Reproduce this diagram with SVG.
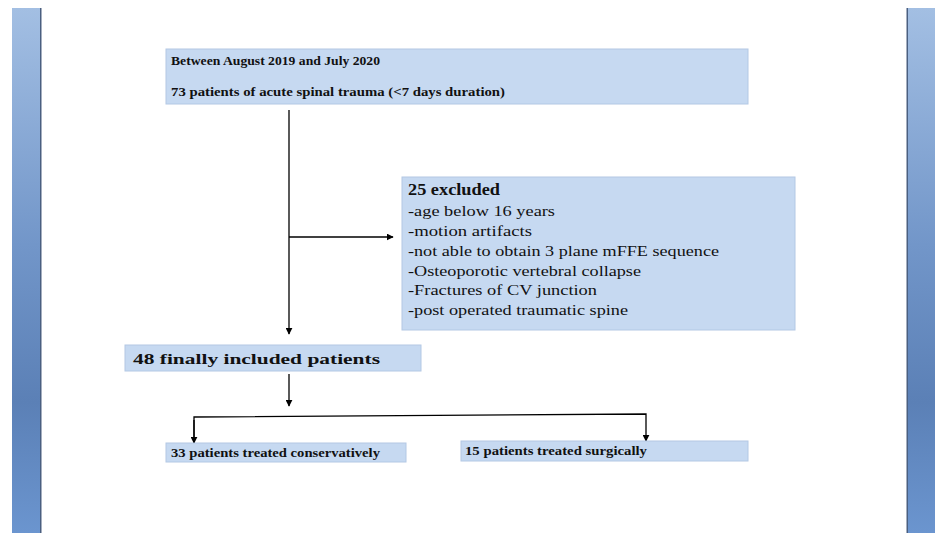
<svg xmlns="http://www.w3.org/2000/svg" width="935" height="533" viewBox="0 0 935 533">
<defs>
<linearGradient id="bar" x1="0" y1="0" x2="0" y2="1">
<stop offset="0" stop-color="#a3bfe3"/>
<stop offset="0.45" stop-color="#7296c9"/>
<stop offset="0.75" stop-color="#5b80b6"/>
<stop offset="1" stop-color="#6b95cf"/>
</linearGradient>
<marker id="ah" viewBox="0 0 10 10" refX="9" refY="5" markerWidth="7" markerHeight="7" markerUnits="userSpaceOnUse" orient="auto">
<path d="M0,0 L10,5 L0,10 z" fill="#000"/>
</marker>
<style>
.box{fill:#c6d9f1;stroke:#b3c8e4;stroke-width:1}
.t{font-family:"Liberation Serif","Times New Roman",serif;fill:#111}
.b{font-weight:bold}
.ln{stroke:#000;stroke-width:1.3;fill:none}
</style>
</defs>
<rect x="0" y="0" width="935" height="533" fill="#fff"/>
<rect x="12" y="8" width="29" height="525" fill="url(#bar)"/>
<rect x="40" y="8" width="1.5" height="525" fill="#4a5f80"/>
<rect x="907" y="8" width="28" height="525" fill="url(#bar)"/>
<rect x="906.5" y="8" width="1.5" height="525" fill="#4a5f80"/>

<g id="connectors">
<line class="ln" x1="289" y1="110" x2="289" y2="334" marker-end="url(#ah)"/>
<line class="ln" x1="289" y1="237" x2="393" y2="237" marker-end="url(#ah)"/>
<line class="ln" x1="289" y1="374" x2="289" y2="406" marker-end="url(#ah)"/>
<polyline class="ln" points="194,443 194,417 646,414 646,441" marker-end="url(#ah)"/>
<line class="ln" x1="194" y1="420" x2="194" y2="443" marker-end="url(#ah)"/>
</g>

<g id="n1">
<rect class="box" x="166" y="49" width="582" height="55"/>
<text class="t b" x="171" y="65" font-size="12" textLength="209" lengthAdjust="spacingAndGlyphs">Between August 2019 and July 2020</text>
<text class="t b" x="171" y="96" font-size="12" textLength="334" lengthAdjust="spacingAndGlyphs">73 patients of acute spinal trauma (&lt;7 days duration)</text>
</g>

<g id="n2">
<rect class="box" x="402" y="177" width="393" height="153"/>
<text class="t b" x="408" y="195" font-size="16" textLength="92" lengthAdjust="spacingAndGlyphs">25 excluded</text>
<text class="t" x="408" y="216" font-size="15.5" textLength="147" lengthAdjust="spacingAndGlyphs">-age below 16 years</text>
<text class="t" x="408" y="236" font-size="15.5" textLength="124" lengthAdjust="spacingAndGlyphs">-motion artifacts</text>
<text class="t" x="408" y="256" font-size="15.5" textLength="311" lengthAdjust="spacingAndGlyphs">-not able to obtain 3 plane mFFE sequence</text>
<text class="t" x="408" y="276" font-size="15.5" textLength="233" lengthAdjust="spacingAndGlyphs">-Osteoporotic vertebral collapse</text>
<text class="t" x="408" y="295" font-size="15.5" textLength="189" lengthAdjust="spacingAndGlyphs">-Fractures of CV junction</text>
<text class="t" x="408" y="315" font-size="15.5" textLength="220" lengthAdjust="spacingAndGlyphs">-post operated traumatic spine</text>
</g>

<g id="n3">
<rect class="box" x="125" y="345" width="296" height="26"/>
<text class="t b" x="133" y="364" font-size="15.5" textLength="247" lengthAdjust="spacingAndGlyphs">48 finally included patients</text>
</g>

<g id="n4">
<rect class="box" x="166" y="443" width="240" height="19"/>
<text class="t b" x="171" y="457" font-size="11.5" textLength="209" lengthAdjust="spacingAndGlyphs">33 patients treated conservatively</text>
</g>

<g id="n5">
<rect class="box" x="461" y="441" width="287" height="20"/>
<text class="t b" x="465" y="455" font-size="11.5" textLength="182" lengthAdjust="spacingAndGlyphs">15 patients treated surgically</text>
</g>
</svg>
